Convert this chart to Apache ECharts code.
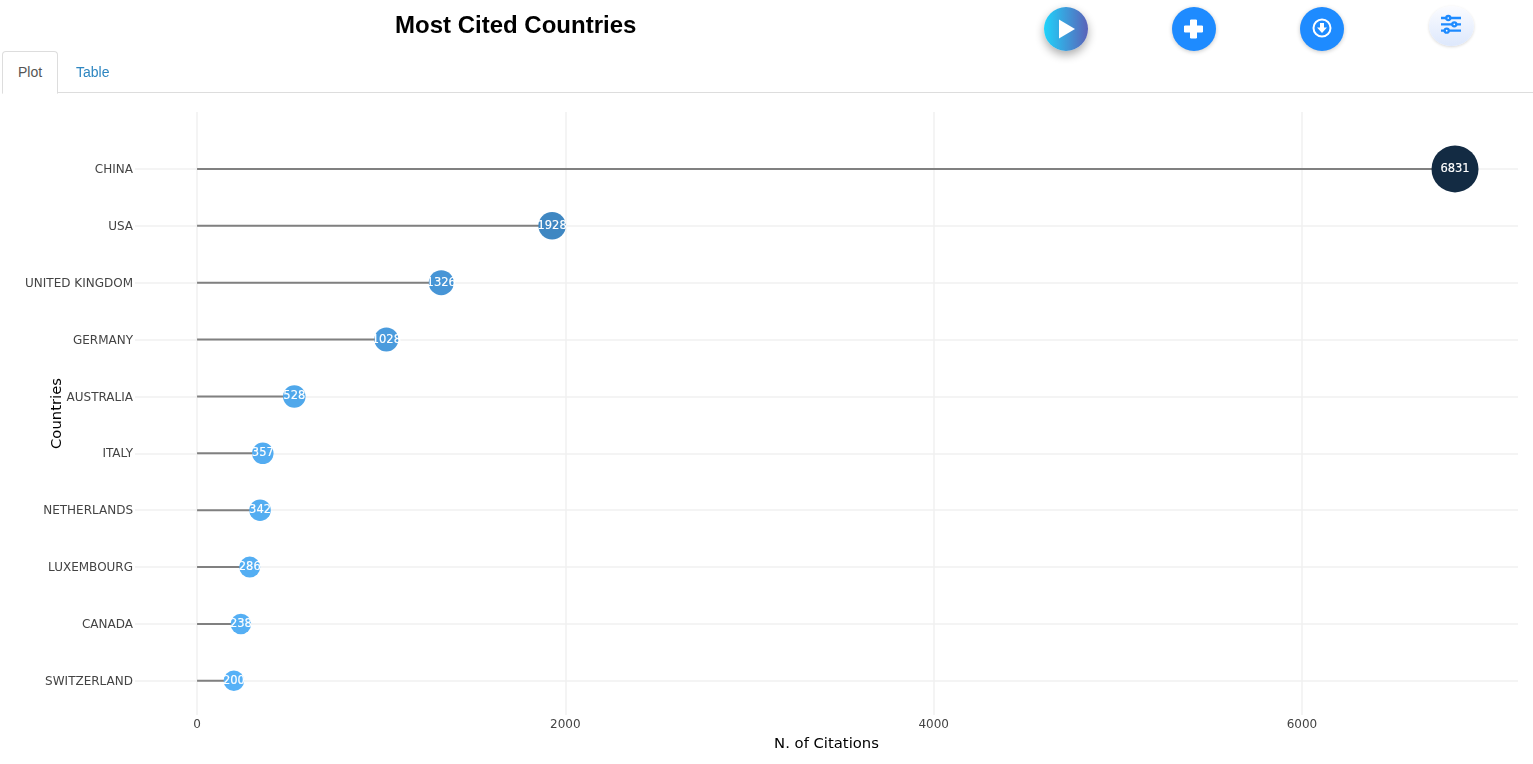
<!DOCTYPE html>
<html><head><meta charset="utf-8">
<style>
html,body{margin:0;padding:0;background:#fff;width:1533px;height:764px;overflow:hidden;font-family:"Liberation Sans",Arial,sans-serif}
#chart{position:absolute;left:0;top:0;width:1533px;height:764px}
.tabline{position:absolute;left:2px;right:0;top:92px;height:1px;background:#ddd}
.tab{position:absolute;top:52px;height:41px;line-height:41px;font-size:14px;text-align:center}
.tab.on{left:2px;top:51px;width:54px;border:1px solid #ddd;border-bottom:1px solid #fff;border-radius:4px 4px 0 0;color:#555;background:#fff;height:41px;z-index:2}
.tab.off{left:76px;color:#2e86c1}
.btn{position:absolute;top:7px;width:44px;height:44px;border-radius:50%;background:#1e8bff;box-shadow:0 1px 4px rgba(0,0,0,.22)}
.btn svg{position:absolute;left:0;top:0;width:44px;height:44px}
</style>
<script src="https://cdn.jsdelivr.net/npm/echarts@6/dist/echarts.min.js"></script>
</head><body>
<div id="chart"></div>
<div class="tabline"></div>
<div class="tab on">Plot</div><div class="tab off">Table</div>
<div class="btn" style="left:1044px;background:linear-gradient(90deg,#1fd3fb,#5b62b8);box-shadow:0 4px 10px rgba(0,0,0,.33)"><svg viewBox="0 0 44 44"><path d="M15 12.500L31 22L15 31.500Z" fill="#fff"/></svg></div>
<div class="btn" style="left:1172px"><svg viewBox="0 0 44 44"><path d="M18.500 13h6v6h6v6h-6v6h-6v-6h-6v-6h6z" fill="#fff" stroke="#fff" stroke-linejoin="round" stroke-width="1"/></svg></div>
<div class="btn" style="left:1300px"><svg viewBox="0 0 44 44"><circle cx="22" cy="21" r="8.500" fill="none" stroke="#fff" stroke-width="2"/><path d="M20 16h4v4.500h3L22 26L17 20.500h3z" fill="#fff"/></svg></div>
<div class="btn" style="left:1429px;top:6px;width:45px;height:40px;background:linear-gradient(180deg,#fbfcff,#dde8fc);box-shadow:0 1px 3px rgba(0,0,0,.15)"><svg viewBox="0 0 45 40" style="width:45px;height:40px"><g stroke="#1e8bff" stroke-width="2.300" fill="#fff"><path d="M12 12h20M12 18.300h20M12 24.700h20" fill="none"/><circle cx="19.300" cy="12" r="2"/><circle cx="25.300" cy="18.300" r="2"/><circle cx="17.700" cy="24.700" r="2"/></g></svg></div>
<script>
var countries = ["CHINA","USA","UNITED KINGDOM","GERMANY","AUSTRALIA","ITALY","NETHERLANDS","LUXEMBOURG","CANADA","SWITZERLAND"];
var citations = [6831,1928,1326,1028,528,357,342,286,238,200];
var bubbleSizes = [47,27.5,25,24,22.5,21.500,21.500,21,20.500,20.500];
var bubbleColors = ["#132B43","#3F87C2","#4795D6","#4A9BDD","#50A8EB","#53ACF1","#53ADF1","#54AEF3","#55AFF4","#56B1F7"];
var xTickValues = [0,2000,4000,6000];
var xDomain = [-337,7173];

var chart = echarts.init(document.getElementById('chart'));
var pts = citations.map(function(v,i){return {value:[v,i],symbolSize:bubbleSizes[i],itemStyle:{color:bubbleColors[i],opacity:1}};});
var stems = citations.map(function(v,i){return [v,i];});
var gridStyle = {show:true,lineStyle:{color:'#f0f0f0',width:1.5}};
var fam = '"DejaVu Sans",sans-serif';
chart.setOption({
  animation:false,
  title:{text:'Most Cited Countries',left:395,top:14,padding:0,textStyle:{fontFamily:'"Liberation Sans",Arial,sans-serif',fontSize:24,fontWeight:'bold',color:'#000'}},
  grid:{left:135,right:15,top:112,bottom:49,containLabel:false,outerBoundsMode:'none'},
  xAxis:{type:'value',min:xDomain[0],max:xDomain[1],
    axisLine:{show:false},
    axisTick:{show:false,customValues:xTickValues},
    splitLine:gridStyle,
    axisLabel:{color:'#444',fontSize:12,fontFamily:fam,margin:4,customValues:xTickValues,formatter:function(v){return String(v);}},
    name:'N. of Citations',nameLocation:'middle',nameGap:22,nameMoveOverlap:false,nameTextStyle:{color:'#000',fontSize:14.800,fontFamily:fam}},
  yAxis:{type:'value',inverse:true,min:-1,max:9.6,interval:1,
    axisLine:{show:false},axisTick:{show:false},splitLine:Object.assign({showMinLine:false,showMaxLine:false},gridStyle),
    axisLabel:{color:'#444',fontSize:12,fontFamily:fam,margin:2,verticalAlign:'top',lineHeight:2,showMinLabel:false,showMaxLabel:false,
      formatter:function(v){return countries[v]||'';}},
    name:'Countries',nameLocation:'middle',nameGap:70,nameMoveOverlap:false,nameRotate:90,nameTextStyle:{color:'#000',fontSize:14.800,fontFamily:fam}},
  series:[
    {type:'custom',data:stems,silent:true,encode:{x:0,y:1},z:2,
     renderItem:function(p,api){
       var a=api.coord([0,api.value(1)]),b=api.coord([api.value(0),api.value(1)]);
       return {type:'line',shape:{x1:a[0],y1:a[1],x2:b[0],y2:b[1]},style:{stroke:'#808080',lineWidth:2}};
     }},
    {type:'scatter',data:pts,z:3,
     label:{show:true,position:'inside',color:'#fff',fontSize:11.500,fontFamily:fam,textBorderColor:'#fff',textBorderWidth:0.15,
       formatter:function(p){return String(p.value[0]);}}}
  ]
});
</script>
</body></html>
